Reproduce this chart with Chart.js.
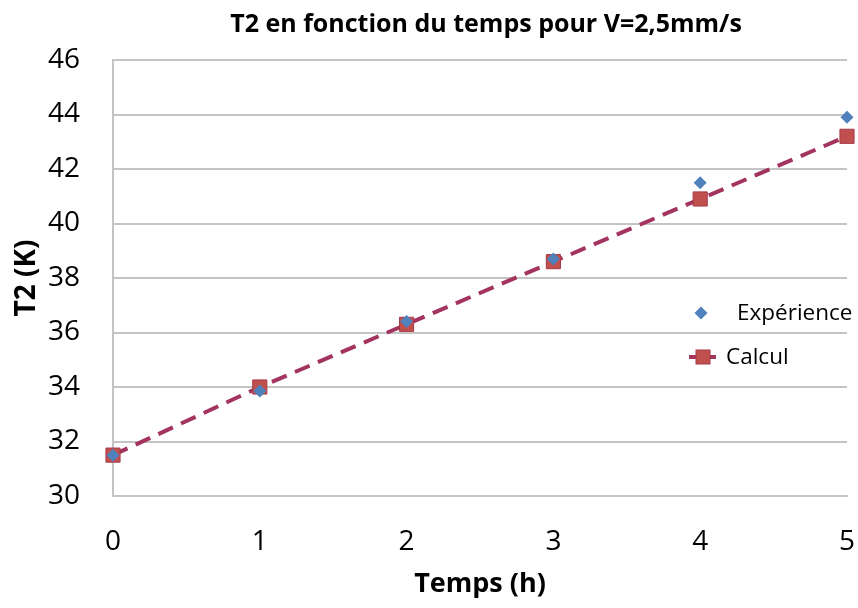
<!DOCTYPE html>
<html>
<head>
<meta charset="utf-8">
<script src="https://cdn.jsdelivr.net/npm/chart.js@4/dist/chart.umd.min.js"></script>
<style>
  html, body { margin: 0; padding: 0; background: #ffffff; }
  #wrap { width: 858px; height: 608px; }
</style>
</head>
<body>
<div id="wrap"><canvas id="c" width="858" height="608"></canvas></div>
<script>
// ---- data ----
const times = [0, 1, 2, 3, 4, 5];
const experience = [31.5, 33.85, 36.4, 38.7, 41.5, 43.9];
const calcul = [31.5, 34.0, 36.3, 38.6, 40.9, 43.2];
const yTicks = [30, 32, 34, 36, 38, 40, 42, 44, 46];
const xTicks = [0, 1, 2, 3, 4, 5];
const chartTitle = 'T2 en fonction du temps pour V=2,5mm/s';
const xTitle = 'Temps (h)';
const yTitle = 'T2 (K)';
const seriesNames = ['Expérience', 'Calcul'];

const FONT = '"Open Sans", "Liberation Sans", sans-serif';
const BLUE = '#4F81BD';
const RED = '#C0504D';
const RED_BORDER = '#A83A4A';
const LINE = '#A3335F';
const GRID = '#C4C4C4';

const toXY = (xs, ys) => xs.map((x, i) => ({ x: x, y: ys[i] }));

const overlay = {
  id: 'overlay',
  afterDraw(chart) {
    const ctx = chart.ctx;
    ctx.save();
    // main title
    ctx.fillStyle = '#000';
    ctx.font = 'bold 25px ' + FONT;
    ctx.textAlign = 'center';
    ctx.textBaseline = 'middle';
    ctx.fillText(chartTitle, 486, 25);

    // legend
    ctx.font = '22.5px ' + FONT;
    ctx.textAlign = 'left';
    ctx.fillStyle = BLUE;
    ctx.beginPath();
    ctx.moveTo(701, 313 - 6.5);
    ctx.lineTo(701 + 6.5, 313);
    ctx.lineTo(701, 313 + 6.5);
    ctx.lineTo(701 - 6.5, 313);
    ctx.closePath();
    ctx.fill();
    ctx.fillStyle = '#000';
    ctx.fillText(seriesNames[0], 737, 314);
    ctx.strokeStyle = LINE;
    ctx.lineWidth = 4;
    ctx.beginPath();
    ctx.moveTo(689, 357);
    ctx.lineTo(716, 357);
    ctx.stroke();
    ctx.fillStyle = RED;
    ctx.strokeStyle = RED_BORDER;
    ctx.lineWidth = 1;
    ctx.fillRect(696, 350, 14, 14);
    ctx.strokeRect(696, 350, 14, 14);
    ctx.fillStyle = '#000';
    ctx.fillText(seriesNames[1], 726, 358);
    ctx.restore();
  }
};

new Chart(document.getElementById('c'), {
  type: 'scatter',
  data: {
    datasets: [
      {
        label: seriesNames[0],
        data: toXY(times, experience),
        showLine: false,
        pointStyle: 'rectRot',
        pointRadius: 6.5,
        pointHoverRadius: 6.5,
        backgroundColor: BLUE,
        borderColor: BLUE,
        borderWidth: 0,
        clip: false
      },
      {
        label: seriesNames[1],
        data: toXY(times, calcul),
        showLine: true,
        borderColor: LINE,
        borderWidth: 4,
        borderDash: [16, 9],
        pointStyle: 'rect',
        pointRadius: 10,
        pointHoverRadius: 10,
        pointBackgroundColor: RED,
        pointBorderColor: RED_BORDER,
        pointBorderWidth: 1,
        tension: 0,
        clip: false
      }
    ]
  },
  options: {
    responsive: false,
    animation: false,
    events: [],
    layout: { padding: { top: 60, right: 9, left: 0, bottom: 0 } },
    plugins: {
      legend: { display: false },
      title: { display: false },
      tooltip: { enabled: false }
    },
    scales: {
      x: {
        type: 'linear',
        min: 0,
        max: 5,
        afterBuildTicks(scale) { scale.ticks = xTicks.map(v => ({ value: v })); },
        afterFit(scale) { scale.height = 112; scale.paddingLeft = 0; scale.paddingRight = 0; },
        ticks: {
          font: { family: FONT, size: 28 },
          color: '#000',
          padding: 29,
          maxRotation: 0
        },
        grid: { display: false, drawTicks: false },
        border: { display: true, color: GRID, width: 2 },
        title: {
          display: true,
          text: xTitle,
          font: { family: FONT, size: 27, weight: 'bold' },
          color: '#000',
          padding: { top: 0, bottom: 7 }
        }
      },
      y: {
        type: 'linear',
        min: 30,
        max: 46,
        afterBuildTicks(scale) { scale.ticks = yTicks.map(v => ({ value: v })); },
        afterFit(scale) { scale.width = 113; scale.paddingTop = 0; scale.paddingBottom = 0; },
        ticks: {
          font: { family: FONT, size: 28 },
          color: '#000',
          padding: 33
        },
        grid: { display: true, color: GRID, lineWidth: 2, drawTicks: false },
        border: { display: true, color: GRID, width: 2 },
        title: {
          display: true,
          text: yTitle,
          font: { family: FONT, size: 28, weight: 'bold' },
          color: '#000',
          padding: { top: 10, bottom: 0 }
        }
      }
    }
  },
  plugins: [overlay]
});
</script>
</body>
</html>
